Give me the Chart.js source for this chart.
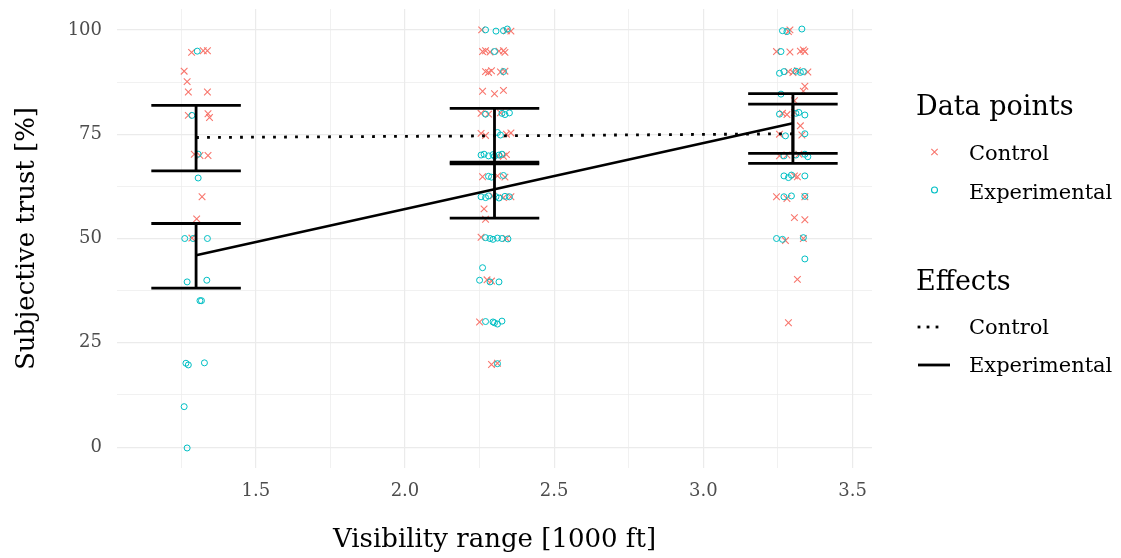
<!DOCTYPE html>
<html><head><meta charset="utf-8">
<script src="https://cdn.jsdelivr.net/npm/chart.js@4/dist/chart.umd.min.js"></script>
<style>html,body{margin:0;padding:0;background:#fff;}#wrap{position:relative;width:1121px;height:558px;}</style>
</head><body><div id="wrap"><canvas id="c" width="1121" height="558"></canvas></div>
<script>
// ---- Data points (jittered) ----
const controlX = [
 1.285,1.324,1.338,1.26,1.27,1.274,1.338,1.274,1.34,1.345,1.294,1.313,1.34,1.32,1.302,1.286,
 2.257,2.34,2.355, 2.26,2.27,2.285,2.315,2.33,2.335, 2.27,2.28,2.29,2.32,2.335, 2.26,2.30,2.33,
 2.255,2.28,2.32, 2.255,2.27,2.34,2.355, 2.31,2.34,2.33, 2.26,2.31,2.335, 2.295,2.33,2.355,
 2.265,2.27, 2.255,2.34, 2.275,2.29, 2.25, 2.29,2.31,
 3.29,3.285, 3.245,3.29,3.325,3.335,3.34, 3.285,3.30,3.315,3.35, 3.34,3.335,3.305,
 3.265,3.28,3.305, 3.325,3.33, 3.255, 3.255,3.28,3.32, 3.305,3.315, 3.245,3.28,3.34,
 3.305,3.34, 3.275,3.335, 3.315,3.285
];
const controlY = [
 94.6,95,95,90.1,87.6,85.1,85.1,79.5,79.9,79,70.2,69.9,69.9,60,54.7,50.1,
 100,99.8,99.7, 94.8,95,94.7,94.9,95,94.6, 90,89.8,90.2,89.9,90.1, 85.3,84.7,85.5,
 80,79.8,80.1, 75.2,74.7,75,75.3, 69.8,70.1,69.7, 64.8,65,64.7, 60.2,59.8,60,
 57.1,54.6, 50.3,50, 40.1,39.8, 30, 19.8,20.1,
 100,99.6, 94.8,94.7,94.9,95.2,94.8, 90,89.8,90.2,89.9, 86.5,85.3,83,
 80,79.7,80.2, 77,74.8, 75, 69.8,70,70.2, 65,64.8, 60,59.6,60,
 55,54.5, 49.5,50, 40.2,29.8
];
const experimentalX = [
 1.304,1.286,1.307,1.307,1.262,1.29,1.338,1.27,1.336,1.313,1.318,1.266,1.274,1.328,1.26,1.27,
 2.27,2.305,2.33,2.343, 2.30, 2.33, 2.27,2.325,2.335,2.35, 2.31,2.32,
 2.255,2.265,2.28,2.295,2.30,2.315,2.325, 2.28,2.29,2.33,
 2.255,2.27,2.28,2.305,2.315,2.335,2.35, 2.27,2.285,2.295,2.31,2.325,2.345,
 2.26, 2.25,2.285,2.315, 2.27,2.295,2.30,2.31,2.325, 2.31,
 3.265,3.28,3.33, 3.26, 3.255,3.27,3.31,3.325,3.335, 3.26, 3.255,3.31,3.32,3.34,
 3.275,3.34, 3.27,3.31,3.34,3.35, 3.27,3.285,3.295,3.34, 3.27,3.295,3.34,
 3.245,3.265,3.335, 3.34
];
const experimentalY = [
 94.9,79.5,70.2,64.5,50,50,50,39.6,40,35.1,35.1,20.1,19.7,20.2,9.7,-0.2,
 100,99.7,99.8,100.2, 94.8, 90, 79.8,80,79.7,80.1, 75.4,74.8,
 70,70.2,69.8,70.1,69.7,70,70.2, 64.9,64.7,65.1,
 60,59.8,60.2,60,59.7,60.1,60, 50.2,50,49.8,50.1,50,49.9,
 43, 40,39.6,39.6, 30.1,30,29.8,29.5,30.2, 20,
 99.8,99.6,100.2, 94.8, 89.6,90,90.1,89.8,90, 84.6, 79.8,80,80.2,79.6,
 74.6,75.1, 69.8,70,70.2,69.6, 65,64.6,65.2,65, 60,60.2,60.1,
 50,49.8,50.2, 45.1
];

// ---- Effects (model estimates with intervals) ----
const effectX = [1.3, 2.3, 3.3];
const controlFit = [74.2, 74.6, 75.1];
const controlLow = [66.2, 67.9, 68.0];
const controlHigh = [81.9, 81.2, 82.2];
const experimentalFit = [46.0, 61.8, 77.6];
const experimentalLow = [38.1, 54.9, 70.4];
const experimentalHigh = [53.6, 68.3, 84.7];

// ---- Ticks ----
const xTicks = [1.25,1.5,1.75,2.0,2.25,2.5,2.75,3.0,3.25,3.5];
const xLabels = ['1.5','2.0','2.5','3.0','3.5'];
const yTicks = [0,12.5,25,37.5,50,62.5,75,87.5,100];
const yLabels = ['0','25','50','75','100'];

const ERR_HALF = 0.15;
function pts(xs, ys){ return xs.map((x,i)=>({x:x, y:ys[i]})); }
function errData(xs, lo, hi){
  const d = [];
  xs.forEach((x,i)=>{
    d.push({x:x-ERR_HALF,y:hi[i]},{x:x+ERR_HALF,y:hi[i]},{x:x,y:null},
           {x:x,y:hi[i]},{x:x,y:lo[i]},{x:x,y:null},
           {x:x-ERR_HALF,y:lo[i]},{x:x+ERR_HALF,y:lo[i]},{x:x,y:null});
  });
  return d;
}
const FONT = "'DejaVu Serif', serif";
const isMajorY = v => Math.abs(v % 25) < 1e-6;
const isMajorX = v => Math.abs((v*2) - Math.round(v*2)) < 1e-6;

const legendPlugin = {
  id:'legendBox',
  afterDraw(chart){
    const ctx = chart.ctx;
    ctx.save();
    ctx.fillStyle = '#000';
    ctx.textBaseline = 'alphabetic';
    ctx.textAlign = 'left';
    ctx.font = '27px ' + FONT;
    ctx.fillText('Data points', 916, 115);
    ctx.fillText('Effects', 916, 290);
    ctx.font = '21px ' + FONT;
    ctx.fillText('Control', 969, 160);
    ctx.fillText('Experimental', 969, 198.5);
    ctx.fillText('Control', 969, 333.5);
    ctx.fillText('Experimental', 969, 372);
    ctx.strokeStyle = '#F8766D'; ctx.lineWidth = 1.1;
    ctx.beginPath();
    ctx.moveTo(931.3,148.8); ctx.lineTo(937.7,155.2);
    ctx.moveTo(937.7,148.8); ctx.lineTo(931.3,155.2);
    ctx.stroke();
    ctx.strokeStyle = '#00BFC4';
    ctx.beginPath(); ctx.arc(934.5,190,3,0,Math.PI*2); ctx.stroke();
    ctx.fillStyle = '#000';
    [919,928,937].forEach(x=>ctx.fillRect(x-1.4,325.6,2.8,2.8));
    ctx.strokeStyle = '#000'; ctx.lineWidth = 2.8;
    ctx.beginPath(); ctx.moveTo(918,365); ctx.lineTo(950,365); ctx.stroke();
    ctx.restore();
  }
};
const bgPlugin = {
  id:'bg',
  beforeDraw(chart){ const c=chart.ctx; c.save(); c.fillStyle='#fff'; c.fillRect(0,0,chart.width,chart.height); c.restore(); }
};

new Chart(document.getElementById('c'), {
  type:'scatter',
  data:{ datasets:[
    { type:'line', label:'Control effect', data:pts(effectX, controlFit), borderColor:'#000', borderWidth:2.8,
      borderDash:[2.8,8.2], pointRadius:0, fill:false, tension:0, order:1 },
    { type:'line', label:'Experimental effect', data:pts(effectX, experimentalFit), borderColor:'#000', borderWidth:2.6,
      pointRadius:0, fill:false, tension:0, order:1 },
    { type:'line', label:'Control CI', data:errData(effectX, controlLow, controlHigh), borderColor:'#000', borderWidth:2.8,
      pointRadius:0, fill:false, spanGaps:false, tension:0, borderCapStyle:'butt', order:2 },
    { type:'line', label:'Experimental CI', data:errData(effectX, experimentalLow, experimentalHigh), borderColor:'#000', borderWidth:2.8,
      pointRadius:0, fill:false, spanGaps:false, tension:0, borderCapStyle:'butt', order:2 },
    { label:'Experimental', data:pts(experimentalX, experimentalY), pointStyle:'circle', pointRadius:3,
      borderColor:'#00BFC4', backgroundColor:'rgba(0,0,0,0)', borderWidth:1, order:3 },
    { label:'Control', data:pts(controlX, controlY), pointStyle:'crossRot', pointRadius:4.7,
      borderColor:'#F8766D', backgroundColor:'#F8766D', borderWidth:1.1, order:4 }
  ]},
  options:{
    responsive:false, animation:false, events:[],
    layout:{ padding:{ left:0, right:249, top:9, bottom:0 } },
    plugins:{ legend:{display:false}, tooltip:{enabled:false} },
    scales:{
      x:{ type:'linear', min:1.035, max:3.565,
        afterBuildTicks(s){ s.ticks = xTicks.map(v=>({value:v})); },
        afterFit(s){ s.height = 90; s.paddingLeft = 0; s.paddingRight = 0; },
        border:{display:false},
        grid:{ drawTicks:false, color:c=>'#EBEBEB', lineWidth:c=> isMajorX(c.tick.value)?1.2:0.7 },
        ticks:{ autoSkip:false, maxRotation:0, padding:13, color:'#4D4D4D', font:{family:FONT, size:18},
          callback:v=> isMajorX(v) ? xLabels[Math.round((v-1.5)*2)] : '' },
        title:{ display:true, text:'Visibility range [1000 ft]', color:'#000', font:{family:FONT, size:26}, padding:{top:0,bottom:2.4} }
      },
      y:{ type:'linear', min:-5, max:105,
        afterBuildTicks(s){ s.ticks = yTicks.map(v=>({value:v})); },
        afterFit(s){ s.width = 117; s.paddingTop = 0; s.paddingBottom = 0; },
        border:{display:false},
        grid:{ drawTicks:false, color:c=>'#EBEBEB', lineWidth:c=> isMajorY(c.tick.value)?1.2:0.7 },
        ticks:{ autoSkip:false, padding:15, color:'#4D4D4D', font:{family:FONT, size:18},
          callback:v=> isMajorY(v) ? yLabels[Math.round(v/25)] : '' },
        title:{ display:true, text:'Subjective trust [%]', color:'#000', font:{family:FONT, size:26}, padding:{top:12,bottom:0} }
      }
    }
  },
  plugins:[bgPlugin, legendPlugin]
});
</script></body></html>
